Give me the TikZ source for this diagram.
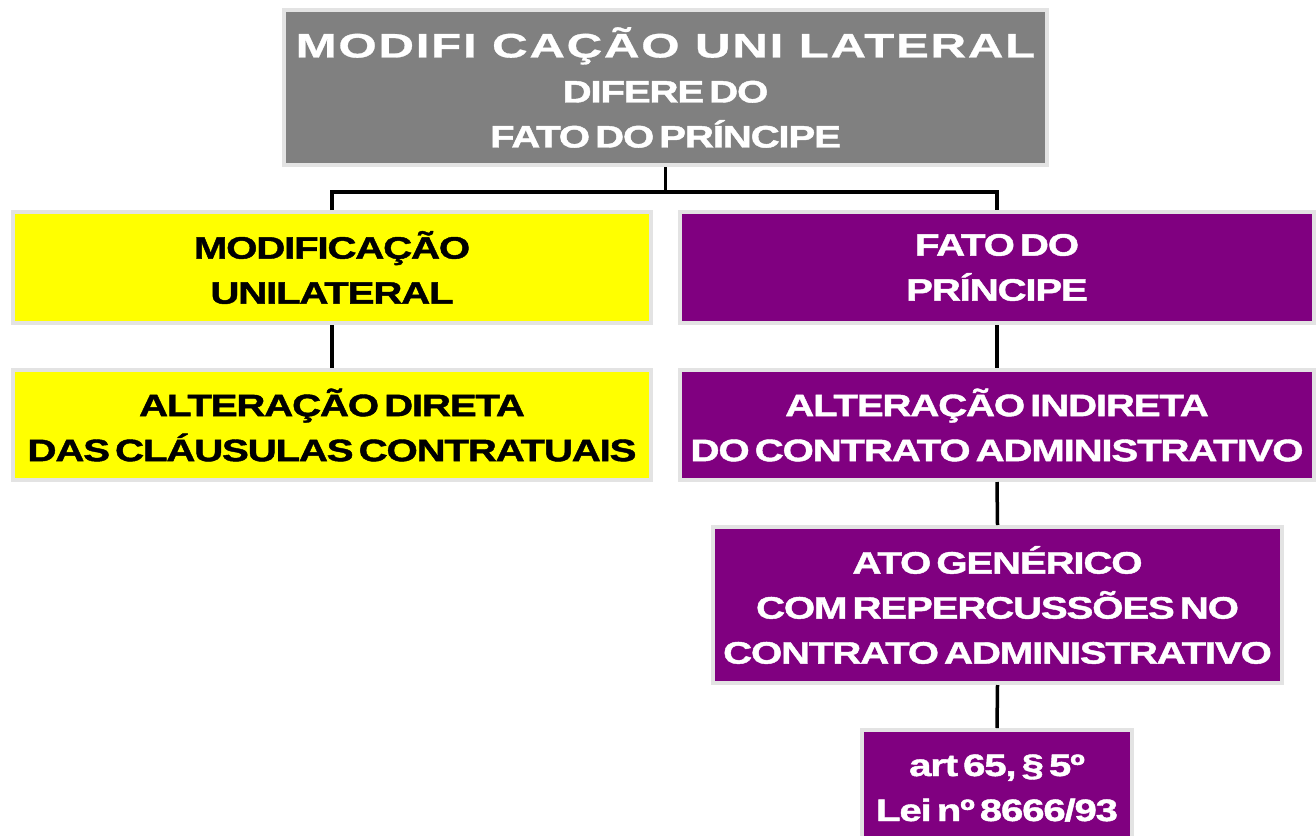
\documentclass[tikz,border=0pt]{standalone}
\usepackage{fontspec}
\setmainfont{Liberation Sans}
\newfontfamily\cf{Liberation Sans}[FakeStretch=1.3,LetterSpace=-4,WordSpace=0.5,FakeBold=1.4]
\newfontfamily\tf{Liberation Sans}[FakeStretch=1.45,LetterSpace=5,FakeBold=0.8]
\definecolor{boxgray}{HTML}{808080}
\definecolor{boxpurple}{HTML}{800080}
\definecolor{boxyellow}{HTML}{FFFF00}
\definecolor{edgegray}{HTML}{E3E3E3}
\tikzset{
  box/.style={draw=edgegray, line width=4pt, rectangle, align=center, inner sep=0pt,
    font=\cf\bfseries\fontsize{31}{45}\selectfont},
  ybox/.style={box, fill=boxyellow, text=black},
  pbox/.style={box, fill=boxpurple, text=white},
  conn/.style={draw=black, line width=3.5pt}
}
\begin{document}
\begin{tikzpicture}[x=1pt,y=-1pt]
\useasboundingbox (0,0) rectangle (1316,835);
\clip (0,0) rectangle (1316,835);
\node[box, fill=boxgray, text=white, minimum width=763pt, minimum height=155pt] (top) at (665.5,87.5)
  {{\tf\bfseries\fontsize{34}{46}\selectfont MODIFI CAÇÃO UNI LATERAL}\\DIFERE DO\\FATO DO PRÍNCIPE};
\node[ybox, minimum width=638pt, minimum height=111pt] (y1) at (332,267.5) {MODIFICAÇÃO\\UNILATERAL};
\node[ybox, minimum width=638pt, minimum height=110pt] (y2) at (332,425) {ALTERAÇÃO DIRETA\\DAS CLÁUSULAS CONTRATUAIS};
\node[pbox, minimum width=634pt, minimum height=111pt] (p1) at (997,267.5) {FATO DO\\PRÍNCIPE};
\node[pbox, minimum width=634pt, minimum height=110pt] (p2) at (997,425) {ALTERAÇÃO INDIRETA\\DO CONTRATO ADMINISTRATIVO};
\node[pbox, minimum width=569pt, minimum height=156pt] (p3) at (997.5,605) {ATO GENÉRICO\\COM REPERCUSSÕES NO\\CONTRATO ADMINISTRATIVO};
\node[pbox, minimum width=270pt, minimum height=116pt] (p4) at (997,788) {art 65, § 5º\\Lei nº 8666/93};
\draw[conn] (top.south) -- ++(0,25) coordinate (j);
\draw[conn] (y1.north) |- (j) -| (p1.north);
\draw[conn] (y1.south) -- (y2.north);
\draw[conn] (p1.south) -- (p2.north);
\draw[conn] (p2.south) -- (p3.north);
\draw[conn] (p3.south) -- (p4.north);
\end{tikzpicture}
\end{document}
